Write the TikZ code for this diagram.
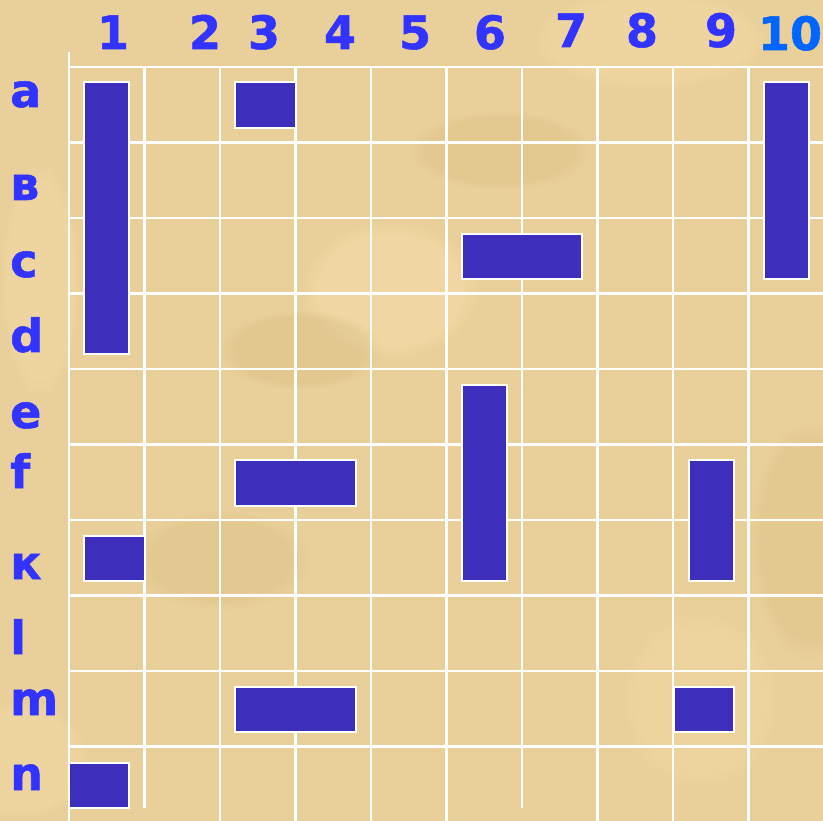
\documentclass[tikz,border=0pt]{standalone}
\usepackage{fontspec}
\setmainfont{DejaVu Sans}
\newfontfamily\labelfont[FakeBold=1.2]{DejaVu Sans Bold}
\usetikzlibrary{fadings}
\definecolor{parchBase}{RGB}{233,207,153}
\definecolor{parchLight}{RGB}{244,220,168}
\definecolor{parchDark}{RGB}{218,190,132}
\definecolor{labelBlue}{RGB}{51,51,255}
\definecolor{tenBlue}{RGB}{0,102,255}
\definecolor{shipBlue}{RGB}{62,46,188}
\tikzset{
  gridline/.style={draw=white,line width=2.4pt},
  ship/.style={fill=shipBlue,draw=white,line width=1.6pt},
  collabel/.style={font=\labelfont\fontsize{46}{46}\selectfont,text=labelBlue,anchor=base,inner sep=0pt},
  rowlabel/.style={font=\labelfont\fontsize{46}{46}\selectfont,text=labelBlue,anchor=base west,inner sep=0pt},
  blot/.style={path fading=circle with fuzzy edge 20 percent}
}
\begin{document}
\begin{tikzpicture}[x=1pt,y=-1pt]
\useasboundingbox (0,0) rectangle (823,821);
% parchment
\fill[parchBase] (0,0) rectangle (823,821);
\fill[parchLight,blot,opacity=.6] (390,290) ellipse (90 and 70);
\fill[parchLight,blot,opacity=.5] (20,760) ellipse (70 and 60);
\fill[parchLight,blot,opacity=.5] (650,40) ellipse (120 and 50);
\fill[parchLight,blot,opacity=.4] (700,700) ellipse (80 and 90);
\fill[parchLight,blot,opacity=.5] (40,280) ellipse (40 and 120);
\fill[parchDark,blot,opacity=.45] (300,350) ellipse (80 and 40);
\fill[parchDark,blot,opacity=.4] (500,150) ellipse (90 and 40);
\fill[parchDark,blot,opacity=.4] (810,540) ellipse (60 and 120);
\fill[parchDark,blot,opacity=.35] (220,560) ellipse (90 and 50);
% grid
\foreach \j in {0,...,9}
  \draw[gridline] (69,67+\j*75.5) -- (823,67+\j*75.5);
\draw[gridline] (69,52) -- (69,821);
\foreach \i in {2,3,4,5,7,8,9}
  \draw[gridline] (69+\i*75.5,67) -- (69+\i*75.5,821);
\foreach \i in {1,6}
  \draw[gridline] (69+\i*75.5,67) -- (69+\i*75.5,808);
% column labels
\foreach \n/\x/\b in {1/113/49,2/205/49,3/264/49,4/340/49,5/415/49,6/490/49,7/571/47,8/642/47,9/721/47}
  \node[collabel] (col\n) at (\x,\b) {\n};
\node[collabel,text=tenBlue] (col10) at (790,50) {10};
% row labels
\foreach \r/\b in {a/107,в/200,c/277,d/352,e/428,f/488,к/579,l/654,m/715,n/790}
  \node[rowlabel] (row\r) at (10,\b) {\r};
% ships
\draw[ship] (84,82) rectangle (129,354);
\draw[ship] (235,82) rectangle (296,128);
\draw[ship] (764,82) rectangle (809,279);
\draw[ship] (462,234) rectangle (582,279);
\draw[ship] (462,385) rectangle (507,581);
\draw[ship] (235,460) rectangle (356,506);
\draw[ship] (689,460) rectangle (734,581);
\draw[ship] (84,536) rectangle (145,581);
\draw[ship] (235,687) rectangle (356,732);
\draw[ship] (674,687) rectangle (734,732);
\draw[ship] (69,763) rectangle (129,808);
\end{tikzpicture}
\end{document}
